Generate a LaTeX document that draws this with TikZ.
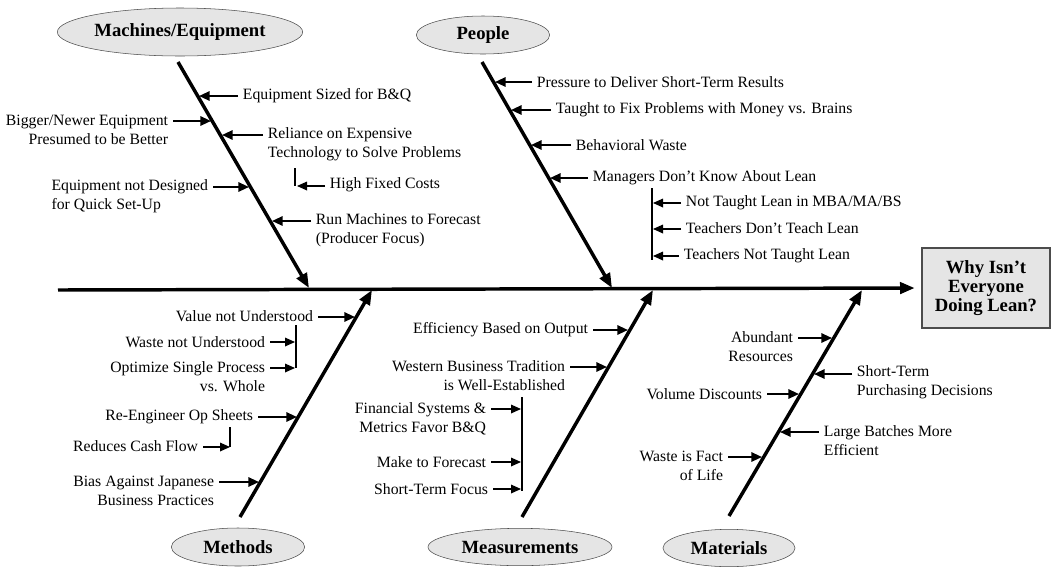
\documentclass[tikz,border=0pt]{standalone}
\usepackage{fontspec}
\setmainfont{Liberation Serif}
\usetikzlibrary{
    arrows.meta,      % For arrow tips
    shapes.geometric  % For the ellipse category labels
}

\begin{document}
\begin{tikzpicture}[
    x=0.75pt, y=-0.75pt, % Work in pixel units, y pointing down
    spine/.style={line width=2.6pt, -{Triangle[length=11pt,width=8.5pt]}}, % Main horizontal arrow
    bone/.style={line width=2.6pt, -{Triangle[length=11pt,width=8.5pt]}},  % Category arrows
    cause/.style={line width=1.5pt, -{Triangle[length=8pt,width=7pt]}},    % Cause arrows
    subcause/.style={line width=0.9pt, -{Triangle[length=7.5pt,width=6.5pt]}}, % Sub-cause arrows
    bracket/.style={line width=0.8pt}, % Thin line that collects sub-causes
    txt/.style={font=\fontsize{11.8}{14.3}\selectfont, inner sep=3.5pt}, % Cause labels
    category/.style={ellipse, draw=black!70, fill=black!10, inner sep=0pt,
        font=\bfseries\fontsize{14}{16}\selectfont},
    effectbox/.style={draw=black!70, line width=1pt, fill=black!10, align=center,
        font=\bfseries\fontsize{14}{14.5}\selectfont, minimum width=96pt, minimum height=60pt}
]
    \useasboundingbox (0,0) rectangle (1054,572);

    % Spine and effect box
    \coordinate (tail) at (58,290);
    \node[effectbox] (effect) at (986,288) {Why Isn't\\Everyone\\Doing Lean?};
    \draw[spine, shorten >=5pt] (tail) -- (effect.west);

    % Category labels
    \node[category, minimum width=184pt, minimum height=36pt] (mach) at (180,32) {Machines/Equipment};
    \node[category, minimum width=100pt, minimum height=28.5pt] (peop) at (483,35) {People};
    \node[category, minimum width=100pt, minimum height=28.5pt] (meth) at (238,547) {Methods};
    \node[category, minimum width=138pt, minimum height=28pt] (meas) at (520,547) {Measurements};
    \node[category, minimum width=99pt, minimum height=28pt] (matl) at (729,548) {Materials};

    % Bones
    \coordinate (machTop) at (178,62);  \coordinate (machTip) at (309,288);
    \coordinate (peopTop) at (482,62);  \coordinate (peopTip) at (612,288);
    \coordinate (methTop) at (240,517); \coordinate (methTip) at (372,290);
    \coordinate (measTop) at (522,517); \coordinate (measTip) at (653,290);
    \coordinate (matlTop) at (729,516); \coordinate (matlTip) at (862,290);
    \draw[bone] (machTop) -- (machTip);
    \draw[bone] (peopTop) -- (peopTip);
    \draw[bone] (methTop) -- (methTip);
    \draw[bone] (measTop) -- (measTip);
    \draw[bone] (matlTop) -- (matlTip);

    % Machines/Equipment causes
    \coordinate (mc1) at (199,96);
    \coordinate (mc2) at (211,121);
    \coordinate (mc3) at (222,135);
    \coordinate (mc4) at (249,187);
    \coordinate (mc5) at (272,221);
    \node[txt, anchor=west] (ms1) at (238,96) {Equipment Sized for B\&Q};
    \node[txt, anchor=east, align=right] (ms2) at (173,129.5) {Bigger/Newer Equipment\\Presumed to be Better};
    \node[txt, anchor=west, align=left] (ms3) at (263,144) {Reliance on Expensive\\Technology to Solve Problems};
    \node[txt, anchor=east, align=left] (ms4) at (213,196) {Equipment not Designed\\for Quick Set-Up};
    \node[txt, anchor=west, align=left] (ms5) at (311,230.5) {Run Machines to Forecast\\(Producer Focus)};
    \draw[cause] (ms1.west |- mc1) -- (mc1);
    \draw[cause] (ms2.east |- mc2) -- (mc2);
    \draw[cause] (ms3.west |- mc3) -- (mc3);
    \draw[cause] (ms4.east |- mc4) -- (mc4);
    \draw[cause] (ms5.west |- mc5) -- (mc5);
    % sub-cause of ms3
    \coordinate (mb1) at (295,168); \coordinate (mb2) at (295,186);
    \node[txt, anchor=west] (ms3a) at (325,185) {High Fixed Costs};
    \draw[bracket] (mb1) -- (mb2);
    \draw[subcause] (ms3a.west |- mb2) -- ++(-28,0);

    % People causes
    \coordinate (pc1) at (495,82);
    \coordinate (pc2) at (511,110);
    \coordinate (pc3) at (531,145);
    \coordinate (pc4) at (550,178);
    \node[txt, anchor=west] (ps1) at (532,82) {Pressure to Deliver Short-Term Results};
    \node[txt, anchor=west] (ps2) at (551,110) {Taught to Fix Problems with Money vs. Brains};
    \node[txt, anchor=west] (ps3) at (571,145) {Behavioral Waste};
    \node[txt, anchor=west] (ps4) at (588,178) {Managers Don't Know About Lean};
    \draw[cause] (ps1.west |- pc1) -- (pc1);
    \draw[cause] (ps2.west |- pc2) -- (pc2);
    \draw[cause] (ps3.west |- pc3) -- (pc3);
    \draw[cause] (ps4.west |- pc4) -- (pc4);
    % sub-causes of ps4
    \coordinate (pb1) at (652,188); \coordinate (pb2) at (652,260);
    \coordinate (pd1) at (653,203);
    \coordinate (pd2) at (653,229);
    \coordinate (pd3) at (653,256);
    \node[txt, anchor=west] (ps4a) at (681,203) {Not Taught Lean in MBA/MA/BS};
    \node[txt, anchor=west] (ps4b) at (681,228) {Teachers Don't Teach Lean};
    \node[txt, anchor=west] (ps4c) at (679,256) {Teachers Not Taught Lean};
    \draw[bracket] (pb1) -- (pb2);
    \draw[subcause] (ps4a.west |- pd1) -- (pd1);
    \draw[subcause] (ps4b.west |- pd2) -- (pd2);
    \draw[subcause] (ps4c.west |- pd3) -- (pd3);

    % Methods causes
    \coordinate (tc1) at (355,317);
    \coordinate (tc2) at (297,417);
    \coordinate (tc3) at (259,482);
    \node[txt, anchor=east] (ts1) at (318,316) {Value not Understood};
    \node[txt, anchor=east] (ts2) at (258,417) {Re-Engineer Op Sheets};
    \node[txt, anchor=east, align=right] (ts3) at (219,491) {Bias Against Japanese\\Business Practices};
    \draw[cause] (ts1.east |- tc1) -- (tc1);
    \draw[cause] (ts2.east |- tc2) -- (tc2);
    \draw[cause] (ts3.east |- tc3) -- (tc3);
    % sub-causes of ts1
    \coordinate (tb1) at (296,325); \coordinate (tb2) at (296,368);
    \coordinate (td1) at (295,342);
    \coordinate (td2) at (295,368);
    \node[txt, anchor=east] (ts1a) at (270,342) {Waste not Understood};
    \node[txt, anchor=east, align=right] (ts1b) at (270,376.5) {Optimize Single Process\\vs. Whole};
    \draw[bracket] (tb1) -- (tb2);
    \draw[subcause] (ts1a.east |- td1) -- (td1);
    \draw[subcause] (ts1b.east |- td2) -- (td2);
    % sub-cause of ts2
    \coordinate (tb3) at (230,427); \coordinate (td3) at (230,447);
    \node[txt, anchor=east] (ts2a) at (203,446) {Reduces Cash Flow};
    \draw[bracket] (tb3) -- (td3);
    \draw[subcause] (ts2a.east |- td3) -- (td3);

    % Measurements causes
    \coordinate (ec1) at (628,330);
    \coordinate (ec2) at (607,367);
    \node[txt, anchor=east] (es1) at (593,330) {Efficiency Based on Output};
    \node[txt, anchor=east, align=right] (es2) at (570,376) {Western Business Tradition\\is Well-Established};
    \draw[cause] (es1.east |- ec1) -- (ec1);
    \draw[cause] (es2.east |- ec2) -- (ec2);
    % sub-causes of es2
    \coordinate (eb1) at (522,397); \coordinate (eb2) at (522,491);
    \coordinate (ed1) at (521,409);
    \coordinate (ed2) at (521,462);
    \coordinate (ed3) at (521,489);
    \node[txt, anchor=east, align=right] (es2a) at (491,418.5) {Financial Systems \&\\Metrics Favor B\&Q};
    \node[txt, anchor=east] (es2b) at (491,462) {Make to Forecast};
    \node[txt, anchor=east] (es2c) at (493,489) {Short-Term Focus};
    \draw[bracket] (eb1) -- (eb2);
    \draw[subcause] (es2a.east |- ed1) -- (ed1);
    \draw[subcause] (es2b.east |- ed2) -- (ed2);
    \draw[subcause] (es2c.east |- ed3) -- (ed3);

    % Materials causes
    \coordinate (rc1) at (832,338);
    \coordinate (rc2) at (814,374);
    \coordinate (rc3) at (799,394);
    \coordinate (rc4) at (780,432);
    \coordinate (rc5) at (762,457);
    \node[txt, anchor=east, align=right] (rs1) at (798,346.5) {Abundant\\Resources};
    \node[txt, anchor=west, align=left] (rs2) at (852,382.5) {Short-Term\\Purchasing Decisions};
    \node[txt, anchor=east] (rs3) at (767,394) {Volume Discounts};
    \node[txt, anchor=west, align=left] (rs4) at (819,441) {Large Batches More\\Efficient};
    \node[txt, anchor=east, align=right] (rs5) at (728,466) {Waste is Fact\\of Life};
    \draw[cause] (rs1.east |- rc1) -- (rc1);
    \draw[cause] (rs2.west |- rc2) -- (rc2);
    \draw[cause] (rs3.east |- rc3) -- (rc3);
    \draw[cause] (rs4.west |- rc4) -- (rc4);
    \draw[cause] (rs5.east |- rc5) -- (rc5);

\end{tikzpicture}
\end{document}
